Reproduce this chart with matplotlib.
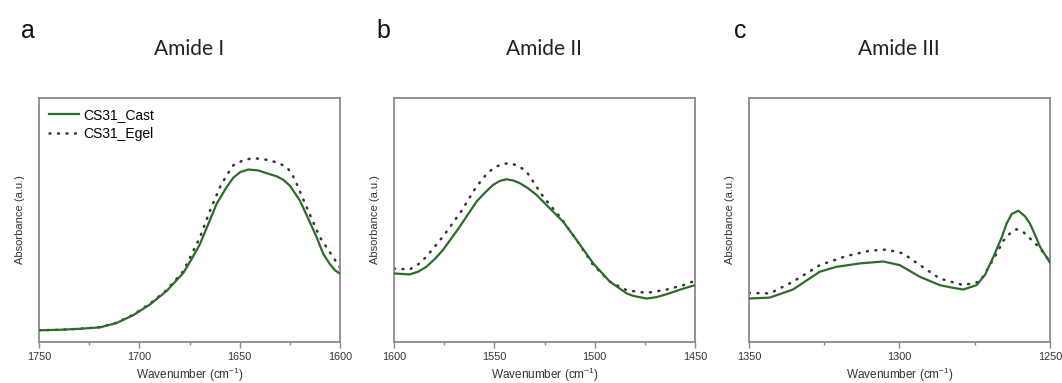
import numpy as np
import matplotlib
matplotlib.use("Agg")
import matplotlib.pyplot as plt
from matplotlib.ticker import MultipleLocator

plt.rcParams['font.family'] = ['Liberation Sans', 'DejaVu Sans']
plt.rcParams['mathtext.fontset'] = 'custom'
plt.rcParams['mathtext.rm'] = 'Liberation Sans'

# Amide I (1750-1600 cm-1)
wn_a_cast = [1750, 1740, 1730, 1719.6, 1711.3, 1703, 1694.7, 1686.4, 1678, 1674, 1669.8,
             1665.6, 1661.5, 1656.5, 1653.2, 1649.8, 1645.7, 1640.7, 1636.6, 1631.6, 1628.3,
             1625, 1620, 1615.8, 1611.6, 1608.3, 1605, 1602.5, 1600]
abs_a_cast = [0.048, 0.050, 0.054, 0.060, 0.078, 0.110, 0.154, 0.209, 0.284, 0.339, 0.401,
              0.484, 0.566, 0.635, 0.673, 0.696, 0.707, 0.703, 0.692, 0.679, 0.665,
              0.641, 0.580, 0.505, 0.429, 0.360, 0.319, 0.294, 0.280]
wn_a_egel = [1750, 1740, 1730, 1719.6, 1711.3, 1703, 1694.7, 1686.4, 1678, 1669.8, 1664.8,
             1659.8, 1656.5, 1653.2, 1648.2, 1643.2, 1635, 1630, 1626.6, 1624, 1621.6, 1616.6,
             1613.3, 1610, 1606.6, 1603.3, 1600]
abs_a_egel = [0.048, 0.050, 0.054, 0.061, 0.079, 0.112, 0.157, 0.213, 0.291, 0.429, 0.538,
              0.635, 0.683, 0.724, 0.745, 0.754, 0.745, 0.731, 0.717, 0.690, 0.648, 0.552,
              0.490, 0.429, 0.387, 0.346, 0.305]

# Amide II (1600-1450 cm-1)
wn_b_cast = [1600, 1596.3, 1592.2, 1588, 1583.9, 1579.7, 1575.6, 1571.4, 1567.2, 1563,
             1558.9, 1554.7, 1550.6, 1547.3, 1544, 1540.6, 1537.3, 1533.2, 1529, 1520.7,
             1515.7, 1509, 1500.7, 1492.4, 1484, 1480.8, 1474.1, 1469.1, 1464.1, 1455.8, 1450]
abs_b_cast = [0.281, 0.279, 0.277, 0.288, 0.308, 0.340, 0.377, 0.425, 0.473, 0.525,
              0.575, 0.612, 0.644, 0.660, 0.667, 0.662, 0.651, 0.630, 0.603, 0.534,
              0.493, 0.418, 0.322, 0.247, 0.199, 0.189, 0.178, 0.184, 0.196, 0.219, 0.233]
wn_b_egel = [1600, 1592.2, 1588, 1583.9, 1575.6, 1567.2, 1558.9, 1554.7, 1550.6, 1546.4,
             1542.3, 1538.1, 1534, 1525.7, 1517.4, 1509, 1500.7, 1492.4, 1484, 1474.1,
             1464.1, 1455.8, 1450]
abs_b_egel = [0.301, 0.297, 0.318, 0.349, 0.432, 0.527, 0.637, 0.680, 0.712, 0.729,
              0.733, 0.722, 0.699, 0.596, 0.514, 0.418, 0.315, 0.247, 0.212, 0.201,
              0.215, 0.233, 0.251]

# Amide III (1350-1250 cm-1)
wn_c_cast = [1350, 1343.1, 1335.4, 1326.5, 1321, 1313.2, 1305.4, 1299.9, 1293.2, 1286.6,
             1282.2, 1278.8, 1274.4, 1271.6, 1268.8, 1266, 1264.4, 1262.7, 1260.5, 1258.3,
             1256.7, 1255, 1253.3, 1250]
abs_c_cast = [0.178, 0.182, 0.215, 0.288, 0.308, 0.322, 0.330, 0.315, 0.267, 0.233,
              0.222, 0.215, 0.233, 0.275, 0.349, 0.430, 0.486, 0.525, 0.538, 0.515,
              0.486, 0.440, 0.390, 0.325]
wn_c_egel = [1350, 1343.1, 1335.4, 1326.5, 1317.7, 1309.9, 1304.3, 1298.8, 1293.2, 1286.6,
             1278.8, 1273.3, 1267.7, 1265.5, 1263.3, 1261.1, 1258.8, 1256.7, 1255, 1253.3, 1250]
abs_c_egel = [0.201, 0.199, 0.247, 0.315, 0.352, 0.374, 0.379, 0.363, 0.315, 0.260,
              0.233, 0.247, 0.363, 0.415, 0.445, 0.462, 0.450, 0.425, 0.405, 0.384, 0.329]

panels = [
    ("a", "Amide I", (1750, 1600), wn_a_cast, abs_a_cast, wn_a_egel, abs_a_egel),
    ("b", "Amide II", (1600, 1450), wn_b_cast, abs_b_cast, wn_b_egel, abs_b_egel),
    ("c", "Amide III", (1350, 1250), wn_c_cast, abs_c_cast, wn_c_egel, abs_c_egel),
]

green = "#2f6b2a"
spine_col = "#8a8a8a"
W, H = 1062, 383
fig = plt.figure(figsize=(W / 100, H / 100), dpi=100, facecolor="w")

lefts = [39, 394, 749]
letter_x = [21, 376, 734]
for i, (letter, title, xlim, wc, ac, we, ae) in enumerate(panels):
    l = lefts[i]
    ax = fig.add_axes([l / W, 1 - 342 / H, 301 / W, 244 / H])
    ax.plot(wc, ac, color=green, lw=1.6, label="CS31_Cast", zorder=3)
    ax.plot(we, ae, color="#333333", lw=1.8, linestyle=(0, (0.4, 3.0)),
            dash_capstyle="round", label="CS31_Egel", zorder=2)
    ax.set_xlim(*xlim)
    ax.set_ylim(0, 1)
    ax.set_yticks([])
    ax.xaxis.set_major_locator(MultipleLocator(50))
    ax.xaxis.set_minor_locator(MultipleLocator(25))
    ax.tick_params(axis="x", which="major", direction="out", length=4, width=1,
                   color=spine_col, labelsize=7.8, labelcolor="#333333", pad=3)
    ax.tick_params(axis="x", which="minor", direction="out", length=2, width=1,
                   color=spine_col)
    for s in ax.spines.values():
        s.set_color(spine_col)
        s.set_linewidth(1.3)
    ax.set_xlabel("Wavenumber (cm$^{-1}$)", fontsize=8.5, color="#333333", labelpad=3)
    ax.set_ylabel("Absorbance (a.u.)", fontsize=8, color="#333333", labelpad=10)
    fig.text(letter_x[i] / W, 1 - 38 / H, letter, fontsize=18, color="#111111",
             ha="left", va="baseline")
    fig.text((l + 150) / W, 1 - 55 / H, title, fontsize=15, family="Lato",
             color="#222222", ha="center", va="baseline")
    if i == 0:
        ax.legend(loc="upper left", frameon=False, fontsize=10, handlelength=2.2,
                  handletextpad=0.3, borderaxespad=0.3, labelspacing=0.4,
                  bbox_to_anchor=(0.0, 1.0))

plt.savefig("out.png", dpi=100)
